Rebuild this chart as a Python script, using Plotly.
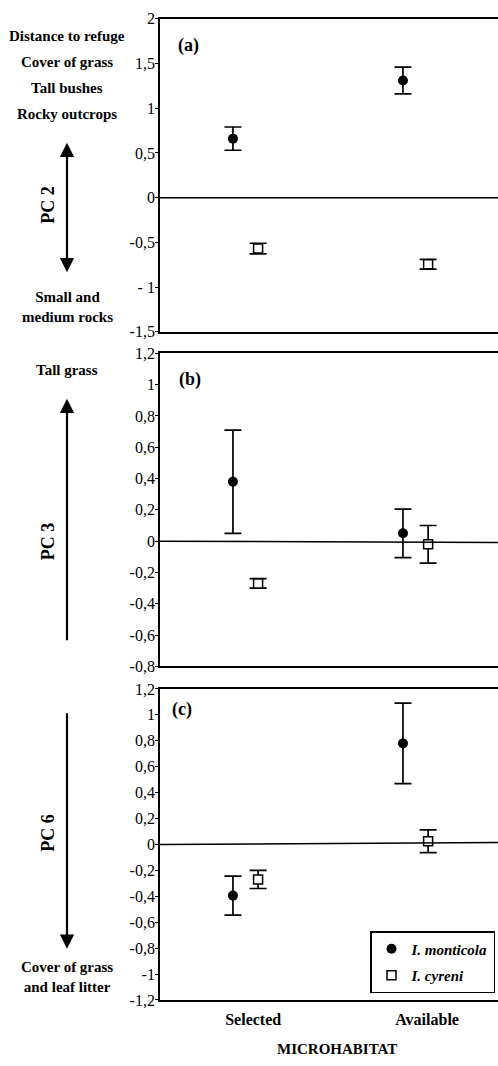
import plotly.graph_objects as go

# ---------------- data ----------------
categories = ["Selected", "Available"]
cat_pos = [0, 1]

pc2_monticola = [0.66, 1.31]
pc2_monticola_err = [0.13, 0.15]
pc2_cyreni = [-0.57, -0.745]
pc2_cyreni_err = [0.06, 0.055]

pc3_monticola = [0.38, 0.05]
pc3_monticola_err = [0.33, 0.155]
pc3_cyreni = [-0.27, -0.02]
pc3_cyreni_err = [0.03, 0.12]

pc6_monticola = [-0.395, 0.78]
pc6_monticola_err = [0.15, 0.31]
pc6_cyreni = [-0.27, 0.025]
pc6_cyreni_err = [0.07, 0.088]

# zero reference line end values (slightly tilted in the original)
zero_line_end = [0.0, -0.008, 0.015]

yticks_a = [2, 1.5, 1, 0.5, 0, -0.5, -1, -1.5]
ytext_a = ["2", "1,5", "1", "0,5", "0", "-0,5", "- 1", "-1,5"]
yticks_b = [1.2, 1, 0.8, 0.6, 0.4, 0.2, 0, -0.2, -0.4, -0.6, -0.8]
ytext_b = ["1,2", "1", "0,8", "0,6", "0,4", "0,2", "0", "-0,2", "-0,4", "-0,6", "-0,8"]
yticks_c = [1.2, 1, 0.8, 0.6, 0.4, 0.2, 0, -0.2, -0.4, -0.6, -0.8, -1, -1.2]
ytext_c = ["1,2", "1", "0,8", "0,6", "0,4", "0,2", "0", "-0,2", "-0,4", "-0,6", "-0,8", "-1", "-1,2"]

FONT = "Liberation Serif"
W, H = 498, 1066
offset = 0.074

fig = go.Figure()

panels = [
    ("x", "y", pc2_monticola, pc2_monticola_err, pc2_cyreni, pc2_cyreni_err),
    ("x2", "y2", pc3_monticola, pc3_monticola_err, pc3_cyreni, pc3_cyreni_err),
    ("x3", "y3", pc6_monticola, pc6_monticola_err, pc6_cyreni, pc6_cyreni_err),
]

for i, (xa, ya, mv, me, cv, ce) in enumerate(panels):
    fig.add_trace(go.Scatter(
        x=[p - offset for p in cat_pos], y=mv, xaxis=xa, yaxis=ya,
        mode="markers", name="<b><i>I. monticola</i></b>", showlegend=(i == 2),
        legendgroup="m",
        marker=dict(symbol="circle", size=10, color="black", line=dict(width=0)),
        error_y=dict(type="data", array=me, visible=True, color="black", thickness=1.7, width=8.5),
    ))
    fig.add_trace(go.Scatter(
        x=[p + offset for p in cat_pos], y=cv, xaxis=xa, yaxis=ya,
        mode="markers", name="<b><i>I. cyreni</i></b>", showlegend=(i == 2),
        legendgroup="c",
        marker=dict(symbol="square", size=9, color="white", line=dict(width=1.5, color="black")),
        error_y=dict(type="data", array=ce, visible=True, color="black", thickness=1.7, width=8.5),
    ))

def py(px):
    return 1 - px / H

def pxx(px):
    return px / W

x_dom = [160 / W, 1.0]
y_doms = [[py(329), py(11)], [py(669), py(351)], [py(1008), py(692)]]
y_ranges = [[-1.5, 2], [-0.8, 1.2], [-1.2, 1.2]]
y_ticks = [(yticks_a, ytext_a), (yticks_b, ytext_b), (yticks_c, ytext_c)]

axis_common = dict(showline=True, linecolor="black", linewidth=1.7, showgrid=False, zeroline=False)

layout = dict(
    width=W, height=H, margin=dict(l=0, r=0, t=0, b=0),
    plot_bgcolor="white", paper_bgcolor="white",
    font=dict(family=FONT, color="black", size=14),
    showlegend=True,
    legend=dict(
        x=pxx(370), y=py(938), xanchor="left", yanchor="top",
        bordercolor="black", borderwidth=1.5, bgcolor="white",
        font=dict(family=FONT, size=15, color="black"),
        itemwidth=30, tracegroupgap=4,
    ),
)

for i in range(3):
    sfx = "" if i == 0 else str(i + 1)
    layout["xaxis" + sfx] = dict(
        domain=x_dom, range=[-0.503, 1.485], anchor="y" + sfx, mirror=True,
        showticklabels=(i == 2), ticks="outside", ticklen=4, tickcolor="rgba(0,0,0,0)",
        tickvals=[0.045, 1.068], ticktext=["<b>" + c + "</b>" for c in categories],
        tickfont=dict(size=16, family=FONT), **axis_common,
    )
    tv, tt = y_ticks[i]
    layout["yaxis" + sfx] = dict(
        domain=y_doms[i], range=y_ranges[i], anchor="x" + sfx, mirror=False,
        ticks="outside", ticklen=3, tickwidth=1, tickcolor="black",
        ticklabelstandoff=-3,
        tickvals=tv, ticktext=tt, tickfont=dict(size=16, family=FONT), **axis_common,
    )

fig.update_layout(**layout)

# zero lines
for i in range(3):
    sfx = "" if i == 0 else str(i + 1)
    fig.add_shape(type="line", xref="x" + sfx + " domain", yref="y" + sfx,
                  x0=0, x1=1, y0=0, y1=zero_line_end[i],
                  line=dict(color="black", width=1.5))

ann = []
def text(x, y, t, size=15, angle=0):
    ann.append(dict(xref="paper", yref="paper", x=pxx(x), y=py(y), text=t, showarrow=False,
                    xanchor="center", yanchor="middle", textangle=angle,
                    font=dict(family=FONT, size=size, color="black")))

def arrow(x, y_head, y_tail, both=False):
    ann.append(dict(xref="paper", yref="paper", x=pxx(x), y=py(y_head), text="",
                    showarrow=True, axref="pixel", ayref="pixel", ax=0, ay=y_tail - y_head,
                    arrowhead=2, arrowsize=1.3, arrowwidth=2.2, arrowcolor="black",
                    arrowside="end+start" if both else "end", standoff=0, startstandoff=0))

# panel (a)
text(67, 28, "<b>Distance to refuge</b>")
text(67, 55, "<b>Cover of grass</b>")
text(67, 81, "<b>Tall bushes</b>")
text(67, 108, "<b>Rocky outcrops</b>")
arrow(67, 137, 268, both=True)
text(48, 200, "<b>PC 2</b>", size=18, angle=-90)
text(67, 304, "<b>Small and<br>medium rocks</b>")
text(188, 38, "<b>(a)</b>", size=18)

# panel (b)
text(67, 368, "<b>Tall grass</b>")
arrow(67, 397, 640)
text(48, 542, "<b>PC 3</b>", size=18, angle=-90)
text(190, 378, "<b>(b)</b>", size=18)

# panel (c)
arrow(67, 956, 719)
text(48, 838, "<b>PC 6</b>", size=18, angle=-90)
text(67, 985, "<b>Cover of grass<br>and leaf litter</b>")
text(182, 713, "<b>(c)</b>", size=18)

text(337, 1058, "<b>MICROHABITAT</b>")

fig.update_layout(annotations=ann)
fig.write_html("out.html")
